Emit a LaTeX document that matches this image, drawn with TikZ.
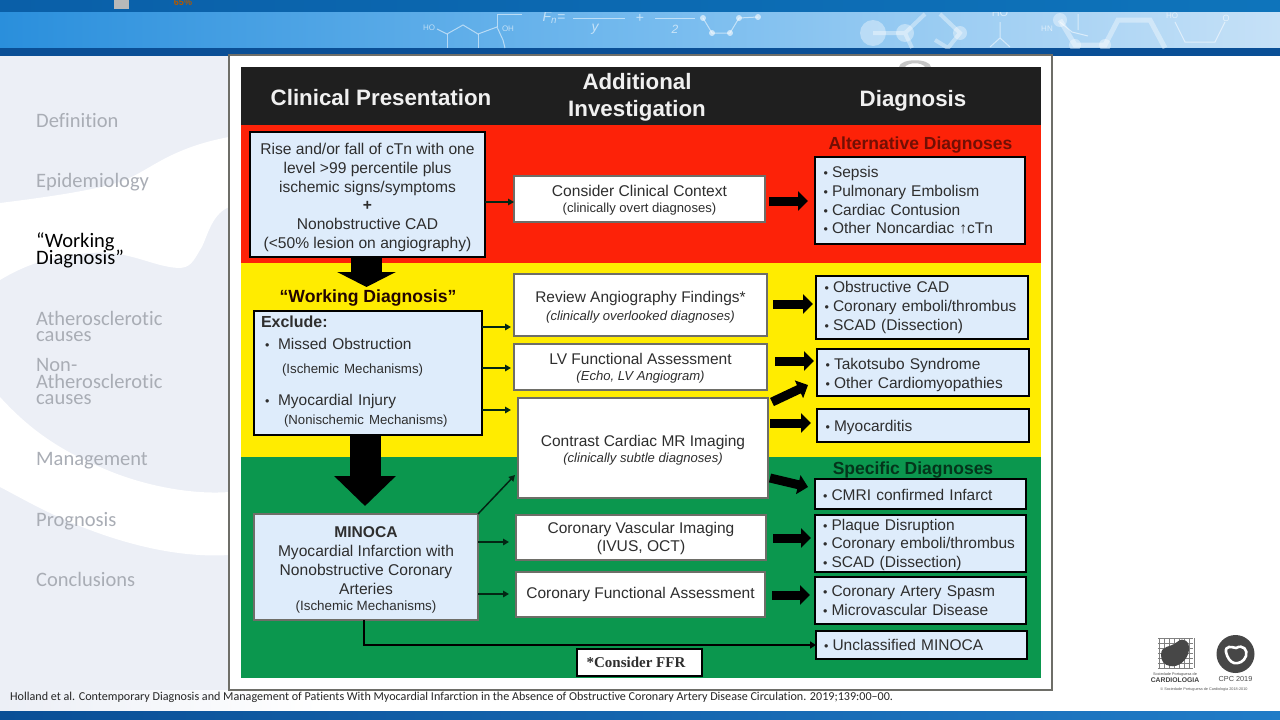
\documentclass[tikz,border=0pt]{standalone}
\usepackage{fontspec}
\setmainfont{Liberation Sans}
\newfontfamily\sidefont[Ligatures=NoCommon]{Carlito}
\newfontfamily\fffont{Liberation Serif}
\usetikzlibrary{arrows.meta,calc}
\definecolor{bandred}{HTML}{FD2208}
\definecolor{bandyel}{HTML}{FFEC00}
\definecolor{bandgrn}{HTML}{0B974E}
\definecolor{boxblue}{HTML}{DEECFB}
\definecolor{txt}{HTML}{2E2E2E}
\definecolor{panel}{HTML}{ECEFF6}
\definecolor{sidegray}{HTML}{A9ADB5}
\definecolor{edgegray}{HTML}{6E6E68}
\definecolor{bantop}{HTML}{0A5FA8}
\definecolor{bantopb}{HTML}{0E74BB}
\definecolor{banda}{HTML}{2A8FDC}
\definecolor{bandb}{HTML}{74BAEE}
\definecolor{bandc}{HTML}{C6E1F7}
\definecolor{bandark}{HTML}{0A4F96}
\newcommand{\fs}[2]{\fontsize{#1}{#2}\selectfont}
\newcommand{\bl}{\makebox[8.5pt][l]{\fs{12.5}{12}•}}
\newcommand{\topstrut}[1]{\rule{0pt}{#1pt}}
\newcommand{\bx}[7]{%
  \node[#6,minimum width={(#4-#2)*1pt},minimum height={(#5-#3)*1pt}] (#1) at ({(#2+#4)/2},{(#3+#5)/2}) {#7};}
\tikzset{
  anybox/.style={inner sep=0pt,outer sep=0pt,align=center,text=txt,font=\fs{15.6}{18.7}},
  bluebox/.style={anybox,draw=black,line width=2.4pt,fill=boxblue},
  softbox/.style={anybox,draw=edgegray,line width=1.4pt,fill=boxblue},
  whitebox/.style={anybox,draw=edgegray,line width=1.8pt,fill=white},
  listbox/.style={bluebox,align=left,text width=#1,font=\fs{15.5}{18.7}},
  thinarr/.style={draw=black!75!bandgrn,line width=1.5pt,-{Triangle[length=6pt,width=6.5pt]}},
  blockarr/.style={black,line width=9pt,-{Triangle[length=10pt,width=19pt]}},
  sideitem/.style={anchor=west,inner sep=0pt,align=left,text=sidegray,font=\sidefont\fs{20.5}{16.8}},
  headtxt/.style={inner sep=0pt,align=center,text=white!94!black,font=\bfseries\fs{22.3}{27}},
  banddeco/.style={draw=white,opacity=.55,line width=1pt},
  bandtxt/.style={inner sep=0pt,text=white,opacity=.6},
  blob/.style={fill=white,opacity=.38},
  sublabel/.style={inner sep=0pt,font=\bfseries\fs{17.5}{20}},
}
\begin{document}
\lineskiplimit=-30pt
\hyphenpenalty=10000
\begin{tikzpicture}[x=1pt,y=-1pt]
\useasboundingbox (0,0) rectangle (1280,720);
% page
\fill[white] (0,0) rectangle (1280,720);
\fill[panel] (0,56) rectangle (229,711);
\shade[left color=panel,right color=white] (0,690) rectangle (320,711);
% white swooshes of the side panel
\fill[white] (0,203) .. controls (40,198) and (100,190) .. (125,180) .. controls (150,170) and (170,148) .. (229,137)
  -- (229,207) .. controls (210,215) and (207,240) .. (200,250) .. controls (193,262) and (190,268) .. (178,268)
  .. controls (150,266) and (130,250) .. (90,253) .. controls (50,256) and (25,265) .. (0,280) -- cycle;
\fill[white] (0,397) .. controls (30,430) and (60,450) .. (100,467) .. controls (140,485) and (190,495) .. (229,492)
  -- (229,555) .. controls (180,558) and (130,545) .. (90,530) .. controls (50,515) and (25,500) .. (0,487) -- cycle;
% banner
\shade[left color=bantop,right color=bantopb] (0,0) rectangle (1280,12);
\fill[gray!55] (114,0) rectangle (129,9);
\begin{scope}
\clip (0,0) rectangle (1280,12);
\node[inner sep=0pt,text=orange!70!black,font=\bfseries\fs{9}{9}] (pct) at (183,2) {65\%};
\end{scope}
\shade[left color=banda,right color=bandb] (0,12) rectangle (640,48);
\shade[left color=bandb,right color=bandc] (640,12) rectangle (1280,48);
\fill[bandark] (0,48) rectangle (1280,55.5);
\begin{scope}
\clip (0,12) rectangle (1280,48);
\draw[banddeco] (437,29) -- (447,34) -- (463,25) -- (478,34) -- (497,27) -- (503,40) -- (505,48);
\draw[banddeco] (447,34) -- (447,48) (478,34) -- (478,48) (497,27) -- (497,14) -- (522,14);
\node[bandtxt,font=\fs{8}{8}] (ho1) at (429,28) {HO};
\node[bandtxt,font=\fs{8}{8}] (oh1) at (508,29) {OH};
\node[bandtxt,font=\itshape\fs{14}{14}] (fn) at (554,18) {F\textsubscript{n}=};
\draw[banddeco] (573,18) -- (625,18) (655,18) -- (695,18);
\node[bandtxt,font=\itshape\fs{14}{14}] (yy) at (595,29) {y};
\node[bandtxt,font=\fs{14}{14}] (pl) at (640,18) {+};
\node[bandtxt,font=\itshape\fs{12}{12}] (two) at (675,29) {2};
\draw[banddeco] (703,18) -- (712,33) -- (730,33) -- (739,18) -- (758,17);
\foreach \px/\py in {703/18,712/33,730/33,739/18,758/17} \fill[white,opacity=.6] (\px,\py) circle (3);
\fill[blob] (873,33) circle (13) (905,33) circle (9) (960,33) circle (7) (1060,20) circle (7) (1075,45) circle (6) (1105,45) circle (6);
\draw[white,opacity=.38,line width=4pt] (873,33) -- (905,33) -- (925,14) (905,33) -- (912,48) (940,14) -- (960,33) -- (948,48) -- (935,40);
\draw[white,opacity=.38,line width=5pt] (1060,20) -- (1075,45) -- (1105,45) -- (1118,20) -- (1150,20) -- (1165,48);
\draw[banddeco] (1000,22) -- (1000,38) -- (990,47) (1000,38) -- (1010,47);
\draw[banddeco] (1060,22) -- (1072,32) -- (1088,36) (1078,14) -- (1078,30);
\draw[banddeco] (1175,22) -- (1185,42) -- (1215,42) -- (1225,22);
\node[bandtxt,font=\fs{11}{11}] (ho2) at (1000,13) {HO};
\node[bandtxt,font=\fs{8}{8}] (ho3) at (1172,16) {HO};
\node[bandtxt,font=\fs{9}{9}] (oo) at (1226,18) {O};
\node[bandtxt,font=\fs{8}{8}] (hn) at (1047,29) {HN};
\end{scope}
% bottom bar
\shade[left color=bandark,right color=banda!70!bandark] (0,711) rectangle (1280,720);
% side menu
\node[sideitem] (m1) at (36,121) {Definition};
\node[sideitem] (m2) at (36,182) {Epidemiology};
\node[sideitem,text=black] (m3) at (36,250) {“Working\\Diagnosis”};
\node[sideitem] (m4) at (36,326.5) {Atherosclerotic\\causes};
\node[sideitem] (m5) at (36,381.5) {Non-\\Atherosclerotic\\causes};
\node[sideitem] (m6) at (36,461) {Management};
\node[sideitem] (m7) at (36,521) {Prognosis};
\node[sideitem] (m8) at (36,579) {Conclusions};
% frame
\fill[white,draw=edgegray,line width=2pt] (229,55) rectangle (1052,690);
\fill[gray!45] (899,67) .. controls (900,58) and (930,58) .. (931,67) -- (925,67) .. controls (922,62) and (908,62) .. (905,67) -- cycle;
% bands
\fill[black!88] (241,67) rectangle (1041,125);
\fill[bandred] (241,125) rectangle (1041,263);
\fill[bandyel] (241,263) rectangle (1041,457);
\fill[bandgrn] (241,457) rectangle (1041,678);
% headers
\node[headtxt] (h1) at (381,98) {Clinical Presentation};
\node[headtxt] (h2) at (637,97) {Additional\\Investigation};
\node[headtxt] (h3) at (913,101) {Diagnosis};
% left column
\bx{rise}{250}{132}{485}{257}{bluebox}{\topstrut{17}Rise and/or fall of cTn with one\\level >99 percentile plus\\ischemic signs/symptoms\\\textbf{+}\\Nonobstructive CAD\\(<50\% lesion on angiography)}
\bx{excl}{254}{311}{482}{435}{bluebox,align=left,text width=214pt}{\fs{16}{19}\textbf{Exclude:}\\[3pt]\fs{15.5}{19}\hspace*{4pt}\makebox[13pt][l]{\fs{12.5}{12}•}Missed Obstruction\\[5pt]\fs{13.3}{19}\hspace*{21pt}(Ischemic Mechanisms)\\[13pt]\fs{15.5}{19}\hspace*{4pt}\makebox[13pt][l]{\fs{12.5}{12}•}Myocardial Injury\\\fs{13.2}{19}\hspace*{23pt}(Nonischemic Mechanisms)\rule[-5pt]{0pt}{5pt}}
\bx{minoca}{254}{514}{478}{620}{softbox}{\topstrut{17.5}\textbf{MINOCA}\\\fs{15.6}{18.7}Myocardial Infarction with\\Nonobstructive Coronary\\Arteries\\[-2pt]\fs{13.4}{17.5}(Ischemic Mechanisms)}
% middle column
\bx{context}{514}{176}{765}{222}{whitebox}{\topstrut{13.5}Consider Clinical Context\\[-2pt]\fs{13.1}{16}(clinically overt diagnoses)}
\bx{review}{514}{274}{767}{336}{whitebox}{\topstrut{15.5}\fs{15.45}{18.7}Review Angiography Findings*\\[-1pt]\fs{13.1}{16}\itshape(clinically overlooked diagnoses)}
\bx{lv}{514}{344}{767}{390}{whitebox}{\topstrut{13.5}\fs{15.5}{18.7}LV Functional Assessment\\[-2pt]\fs{13.1}{16}\itshape(Echo, LV Angiogram)}
\bx{cmr}{518}{398}{768}{498}{whitebox}{\topstrut{15.5}\fs{15.5}{18.7}Contrast Cardiac MR Imaging\\[-2pt]\fs{13.1}{16}\itshape(clinically subtle diagnoses)}
\bx{cvi}{516}{515}{766}{560}{whitebox}{\topstrut{13.5}\fs{15.5}{18.7}Coronary Vascular Imaging\\(IVUS, OCT)}
\bx{cfa}{516}{572}{765}{617}{whitebox}{\fs{15.5}{18.7}Coronary Functional Assessment}
\bx{ffr}{577}{649}{702}{676}{anybox,draw=black,line width=2.2pt,fill=white}{\fffont\bfseries\fs{15}{17}*Consider FFR\hspace*{7pt}}
% right column
\bx{alt}{815}{157}{1025}{244}{listbox=193pt}{\bl Sepsis\\\bl Pulmonary Embolism\\\bl Cardiac Contusion\\\bl Other Noncardiac ↑cTn}
\bx{obst}{816}{276}{1028}{339}{listbox=195pt}{\bl Obstructive CAD\\\bl Coronary emboli/thrombus\\\bl SCAD (Dissection)}
\bx{tako}{817}{349}{1029}{396}{listbox=195pt}{\topstrut{16}\bl Takotsubo Syndrome\\\bl Other Cardiomyopathies}
\bx{myo}{817}{409}{1029}{442}{listbox=195pt}{\topstrut{16}\bl Myocarditis}
\bx{cmri}{815}{479}{1026}{509}{listbox=195pt}{\topstrut{14}\bl CMRI confirmed Infarct}
\bx{plaque}{815}{515}{1026}{572}{listbox=195pt}{\topstrut{14}\bl Plaque Disruption\\\bl Coronary emboli/thrombus\\\bl SCAD (Dissection)}
\bx{spasm}{815}{577}{1026}{624}{listbox=195pt}{\bl Coronary Artery Spasm\\\bl Microvascular Disease}
\bx{uncl}{816}{631}{1027}{659}{listbox=195pt}{\bl Unclassified MINOCA}
% band labels
\node[sublabel,text=black!80!bandred!70!black,font=\bfseries\fs{17.6}{20}] (wd) at (368,298) {“Working Diagnosis”};
\node[sublabel,text=bandred!45!black] (altl) at (920.5,145) {Alternative Diagnoses};
\node[sublabel,text=bandgrn!35!black] (spec) at (913,470) {Specific Diagnoses};
% thin connectors
\draw[thinarr] ([yshift=-7.5]rise.east) -- ([yshift=-3]context.west);
\draw[thinarr] ([yshift=46]excl.east) -- ([xshift=-3,yshift=-22]review.west);
\draw[thinarr] ([yshift=5]excl.east) -- ([xshift=-3,yshift=-1]lv.west);
\draw[thinarr] ([yshift=-37]excl.east) -- ([xshift=-7,yshift=38]cmr.west);
\draw[thinarr] (minoca.north east) -- ([xshift=-3,yshift=-27]cmr.west);
\draw[thinarr] ([yshift=25]minoca.east) -- ([xshift=-7,yshift=-4.5]cvi.west);
\draw[thinarr] ([yshift=-27]minoca.east) -- ([xshift=-7,yshift=.5]cfa.west);
\draw[black,line width=2.4pt,-{Triangle[length=6pt,width=7pt]}] ([xshift=-2]minoca.south) |- (uncl.west);
% block arrows
\draw[blockarr] ([xshift=4,yshift=-2]context.east) -- ([xshift=-7,yshift=-.5]alt.west);
\draw[blockarr] ([xshift=6,yshift=1]review.east) -- ([xshift=-3,yshift=3.5]obst.west);
\draw[blockarr] ([xshift=8,yshift=6]lv.east) -- ([xshift=-3,yshift=11.5]tako.west);
\draw[blockarr] ([xshift=4,yshift=46]cmr.east) -- ([xshift=-9,yshift=-12.5]tako.west);
\draw[blockarr] ([xshift=2,yshift=25]cmr.east) -- ([xshift=-6,yshift=2.5]myo.west);
\draw[blockarr] ([xshift=2,yshift=-30]cmr.east) -- ([xshift=-7,yshift=7]cmri.west);
\draw[blockarr] ([xshift=7,yshift=-.5]cvi.east) -- ([xshift=-4,yshift=5.5]plaque.west);
\draw[blockarr] ([xshift=7,yshift=-.5]cfa.east) -- ([xshift=-5,yshift=5.5]spasm.west);
% huge arrows
\draw[black,line width=31pt,-{Triangle[length=15pt,width=58pt]},shorten >=24pt] ([xshift=-1]rise.south) -- ([xshift=-1.5]excl.north);
\draw[black,line width=31pt,-{Triangle[length=30pt,width=60pt]},shorten >=8pt] ([xshift=-3]excl.south) -- ([xshift=-1]minoca.north);
% footnote
\node[anchor=west,inner sep=0pt,text=black!85,font=\sidefont\fs{12.1}{14}] (foot) at (10,697) {Holland et al. Contemporary Diagnosis and Management of Patients With Myocardial Infarction in the Absence of Obstructive Coronary Artery Disease Circulation. 2019;139:00–00.};
% logos
\foreach \gx in {1159,1164,...,1194} \draw[black!50,line width=.5pt] (\gx,638) -- (\gx,668);
\foreach \gy in {638,643,...,668} \draw[black!50,line width=.5pt] (1158,\gy) -- (1193,\gy);
\fill[black!72] (1161,655) .. controls (1161,645) and (1170,648) .. (1177,642) .. controls (1184,636) and (1190,642) .. (1189,650) .. controls (1188,660) and (1178,668) .. (1170,666) .. controls (1164,665) and (1161,661) .. (1161,655) -- cycle;
\node[inner sep=0pt,text=black!70,font=\fs{3.8}{4}] (spc) at (1175,674.5) {Sociedade Portuguesa de};
\node[inner sep=0pt,text=black!75,font=\bfseries\fs{6.8}{7}] (card) at (1175,680.5) {CARDIOLOGIA};
\fill[black!72] (1235.5,654) circle (19);
\draw[white,line width=2.6pt] (1226,652) .. controls (1225,645) and (1232,647) .. (1236,648) .. controls (1243,644) and (1248,650) .. (1246,656) .. controls (1244,662) and (1238,664) .. (1234,663) .. controls (1230,662) and (1227,657) .. (1226,652) -- cycle;
\node[inner sep=0pt,text=black!70,font=\fs{7.3}{8}] (cpc) at (1235.5,679) {CPC 2019};
\node[inner sep=0pt,text=black!65,font=\fs{3.8}{4}] (soc) at (1204,690) {\textcopyright\ Sociedade Portuguesa de Cardiologia 2018-2010};
\end{tikzpicture}
\end{document}
